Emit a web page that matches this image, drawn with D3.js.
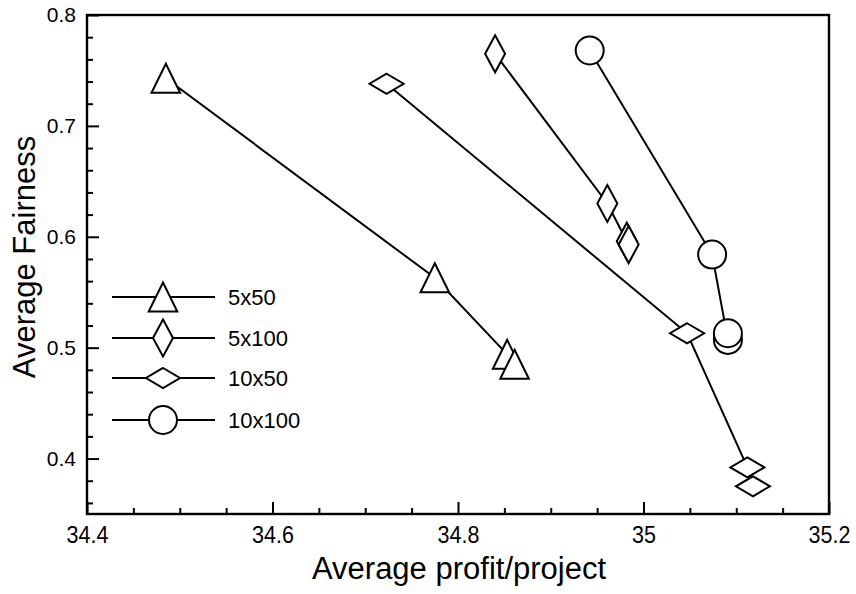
<!DOCTYPE html>
<html lang="en">
<head>
<meta charset="UTF-8">
<script src="https://d3js.org/d3.v7.min.js"></script>
<title>Average Fairness vs profit</title>
<style>
  body { margin: 0; background: #fff; }
  text { font-family: "Liberation Sans", Arial, sans-serif; fill: #000; }
</style>
</head>
<body>
<svg id="chart" width="856" height="594"></svg>
<script>
// data
const seriesNames = ["5x50", "5x100", "10x50", "10x100"];
const profit5x50 = [34.485, 34.775, 34.853, 34.861];
const fair5x50 = [0.743, 0.563, 0.494, 0.485];
const profit5x100 = [34.840, 34.961, 34.982, 34.984];
const fair5x100 = [0.765, 0.630, 0.596, 0.593];
const profit10x50 = [34.723, 35.047, 35.112, 35.118];
const fair10x50 = [0.738, 0.513, 0.392, 0.375];
const profit10x100 = [34.942, 35.074, 35.091, 35.091];
const fair10x100 = [0.768, 0.584, 0.507, 0.513];

const xTicks = [34.4, 34.6, 34.8, 35, 35.2];
const yTicks = [0.4, 0.5, 0.6, 0.7, 0.8];

const svg = d3.select("#chart");
const plotLeft = 87, plotRight = 829, plotTop = 15, plotBottom = 514;

const x = d3.scaleLinear().domain([34.4, 35.2]).range([plotLeft, plotRight]);
const y = d3.scaleLinear().domain([0.35, 0.8]).range([plotBottom, plotTop]);

// marker shapes, centred on the bounding box
const markerPath = (shape) => {
    if (shape === "triangle") {
        return "M0,-14.5L14.3,14.5L-14.3,14.5Z";
    } else if (shape === "tall") {
        return "M0,-18.5L10,0L0,18.5L-10,0Z";
    } else if (shape === "wide") {
        return "M0,-10L17,0L0,10L-17,0Z";
    }
    return d3.arc()({ innerRadius: 0, outerRadius: 14, startAngle: 0, endAngle: 2 * Math.PI });
};
const shapes = ["triangle", "tall", "wide", "circle"];
const xs = [profit5x50, profit5x100, profit10x50, profit10x100];
const ys = [fair5x50, fair5x100, fair10x50, fair10x100];

// axes - ticks point inwards
const minorX = d3.range(34.45, 35.2, 0.05).filter((v, i) => i % 4 !== 3);
const minorY = d3.range(0.36, 0.8, 0.02).filter(v => Math.abs(v * 10 - Math.round(v * 10)) > 0.01);

svg.append("g")
    .attr("transform", `translate(0,${plotBottom})`)
    .call(d3.axisBottom(x).tickValues(minorX).tickSize(-6).tickFormat(""))
    .call(g => g.select(".domain").remove());
svg.append("g")
    .attr("class", "x-axis")
    .attr("transform", `translate(0,${plotBottom})`)
    .call(d3.axisBottom(x).tickValues(xTicks).tickSize(-12).tickFormat(d3.format("")))
    .call(g => g.select(".domain").remove());

svg.append("g")
    .attr("transform", `translate(${plotLeft},0)`)
    .call(d3.axisLeft(y).tickValues(minorY).tickSize(-6).tickFormat(""))
    .call(g => g.select(".domain").remove());
svg.append("g")
    .attr("class", "y-axis")
    .attr("transform", `translate(${plotLeft},0)`)
    .call(d3.axisLeft(y).tickValues(yTicks).tickSize(-12).tickPadding(11).tickFormat(d3.format("")))
    .call(g => g.select(".domain").remove());

svg.selectAll(".tick line").attr("stroke", "#000").attr("stroke-width", 2);
svg.selectAll(".y-axis .tick text").style("font-size", "21px");
// x labels look a little taller in the original
svg.selectAll(".x-axis .tick text")
    .style("font-size", "21.5px")
    .attr("y", 0)
    .attr("dy", "0.71em")
    .attr("transform", "translate(0,12.5) scale(1,1.1)");

// frame
svg.append("rect")
    .attr("x", plotLeft).attr("y", plotTop)
    .attr("width", plotRight - plotLeft).attr("height", plotBottom - plotTop)
    .attr("fill", "none").attr("stroke", "#000").attr("stroke-width", 2.4);

// lines then markers
const line = d3.line().x(d => x(d[0])).y(d => y(d[1]));
for (let s = 0; s < seriesNames.length; s++) {
    const pts = xs[s].map((v, i) => [v, ys[s][i]]);
    svg.append("path")
        .datum(pts)
        .attr("d", line)
        .attr("fill", "none")
        .attr("stroke", "#000")
        .attr("stroke-width", 2);
    svg.selectAll(null)
        .data(pts)
        .enter()
        .append("path")
        .attr("d", markerPath(shapes[s]))
        .attr("transform", d => `translate(${x(d[0])},${y(d[1])})`)
        .attr("fill", "#fff")
        .attr("stroke", "#000")
        .attr("stroke-width", 2);
}

// legend
const legendY = [297, 338, 378, 420];
seriesNames.forEach((name, i) => {
    const g = svg.append("g").attr("transform", `translate(0,${legendY[i]})`);
    g.append("line")
        .attr("x1", 112).attr("x2", 215)
        .attr("stroke", "#000").attr("stroke-width", 2);
    g.append("path")
        .attr("d", markerPath(shapes[i]))
        .attr("transform", "translate(163,0)")
        .attr("fill", "#fff").attr("stroke", "#000").attr("stroke-width", 2);
    g.append("text")
        .attr("x", 228).attr("dy", "0.36em")
        .style("font-size", "22px")
        .text(name);
});

// axis titles
svg.append("text")
    .attr("x", (plotLeft + plotRight) / 2 + 1)
    .attr("y", 579)
    .attr("text-anchor", "middle")
    .style("font-size", "31px")
    .text("Average profit/project");

svg.append("text")
    .attr("transform", "translate(35,257) rotate(-90)")
    .attr("text-anchor", "middle")
    .style("font-size", "31px")
    .text("Average Fairness");
</script>
</body>
</html>
